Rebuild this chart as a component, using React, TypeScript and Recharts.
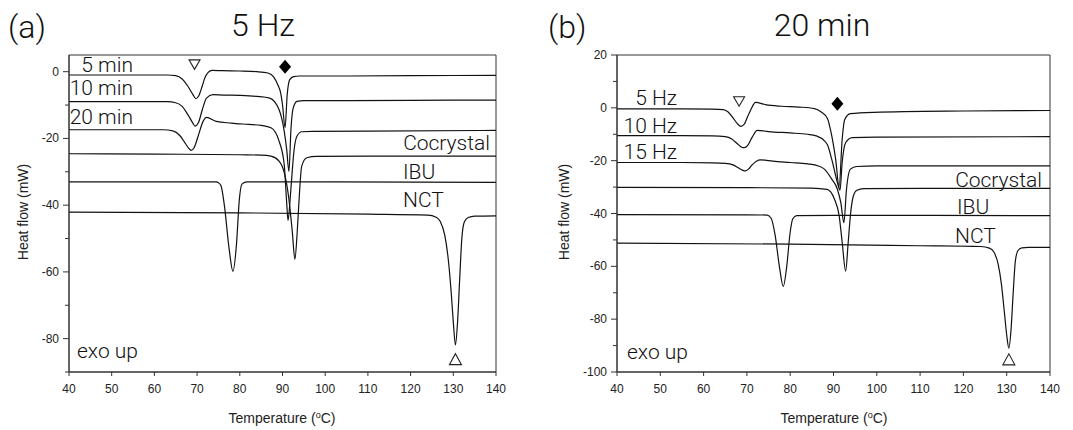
import React from 'react';
import { LineChart, Line, XAxis, YAxis, ReferenceArea, ReferenceDot } from 'recharts';

// ---------- shared ticks ----------
const xTicks = [40, 50, 60, 70, 80, 90, 100, 110, 120, 130, 140];
const aYTicks = [-90, -80, -70, -60, -50, -40, -30, -20, -10, 0];
const bYTicks = [-100, -90, -80, -70, -60, -50, -40, -30, -20, -10, 0, 10, 20];

// ---------- panel (a): 5 Hz ----------
const a5minT = [40, 55, 63, 65, 66.5, 67.8, 69, 69.7, 70.4, 71.2, 71.8, 72.6, 73.5, 76, 80, 84, 86.6, 88, 88.9, 89.5, 90.0, 90.6, 91.1, 91.7, 92.6, 94, 100, 120, 140];
const a5minV = [-1.0, -1.0, -1.0, -1.2, -2.2, -4.3, -6.8, -8.1, -7.2, -4.3, -1.9, -0.2, 0.4, 0.3, 0.2, 0.0, -0.4, -1.7, -3.9, -6.0, -9.9, -16.8, -6.9, -2.4, -1.5, -1.3, -1.3, -1.2, -1.1];

const a10minT = [40, 55, 63, 65, 66.5, 67.8, 69, 69.5, 70.3, 71.2, 72.2, 73.7, 76, 80, 84, 87, 89.2, 90.4, 91.0, 91.5, 92.0, 92.5, 93.4, 95, 100, 120, 140];
const a10minV = [-9.0, -9.0, -9.0, -9.3, -10.4, -12.8, -15.4, -16.3, -15.3, -11.5, -7.9, -6.9, -7.0, -7.1, -7.4, -7.9, -11.4, -17.8, -23.5, -29.9, -16.8, -10.9, -8.9, -8.7, -8.7, -8.6, -8.5];

const a20minT = [40, 55, 62, 64.5, 66, 67.3, 68, 68.6, 69.3, 70.2, 71.4, 72.2, 74.5, 78, 82, 85, 87.3, 89.2, 90.4, 91.0, 91.3, 91.8, 92.3, 92.6, 93.4, 94.5, 97, 110, 140];
const a20minV = [-17.4, -17.4, -17.4, -17.8, -19.2, -21.6, -22.9, -23.6, -22.8, -19.5, -14.9, -13.7, -14.9, -15.4, -15.8, -16.1, -16.8, -20.8, -27.8, -39.7, -44.6, -38.0, -29.5, -24.8, -19.3, -18.0, -17.9, -17.8, -17.6];

const aCocrystalT = [40, 60, 80, 85, 87.3, 89.2, 90.4, 91.5, 92.3, 92.9, 93.4, 93.8, 94.5, 95.7, 98, 110, 140];
const aCocrystalV = [-24.6, -24.7, -24.9, -25.0, -25.3, -26.8, -30.2, -38.2, -48.0, -56.2, -49.0, -40.2, -28.3, -25.8, -25.4, -25.3, -25.3];

const aIbuT = [40, 60, 74.5, 75.0, 75.6, 76.4, 77.5, 78.4, 79.2, 79.9, 80.5, 81.7, 90, 140];
const aIbuV = [-33.0, -33.0, -33.0, -33.3, -34.2, -40.2, -53.1, -59.8, -52.1, -38.2, -33.7, -33.0, -33.0, -33.2];

const aNctT = [40, 80, 110, 124, 126, 127, 128, 128.8, 129.5, 130, 130.5, 131, 131.5, 132, 132.6, 133.5, 135, 140];
const aNctV = [-42.1, -42.3, -42.7, -43.0, -43.6, -45.0, -49.0, -56.0, -66.0, -75.0, -81.9, -75.0, -62.0, -50.0, -45.0, -43.7, -43.3, -43.2];

// ---------- panel (b): 20 min ----------
const b5HzT = [40, 55, 62, 64.5, 65.6, 66.8, 67.8, 68.6, 69.4, 70.2, 70.9, 72.0, 74.3, 78, 82, 85.6, 87.1, 88.6, 89.4, 90.5, 91.3, 92.0, 92.6, 93.9, 99.3, 120, 140];
const b5HzV = [-0.4, -0.4, -0.5, -0.7, -1.5, -3.8, -6.0, -7.0, -6.2, -3.2, -0.7, 2.1, 1.2, 0.6, 0.3, -0.3, -1.5, -4.0, -9.0, -19.5, -30.0, -12.0, -4.4, -2.2, -1.7, -1.2, -1.0];

const b10HzT = [40, 55, 62, 65, 66.5, 67.8, 68.7, 69.4, 70.2, 71.2, 72.4, 75, 80, 84, 86, 87.9, 88.6, 89.6, 90.9, 91.5, 92.0, 92.8, 94.3, 100, 140];
const b10HzV = [-10.5, -10.5, -10.6, -10.9, -11.8, -13.6, -14.8, -15.1, -14.2, -11.2, -8.5, -9.0, -9.5, -10.0, -10.6, -12.5, -14.0, -19.5, -28.3, -31.2, -20.7, -13.2, -11.3, -11.1, -10.9];

const b15HzT = [40, 55, 62, 65, 66.8, 68.2, 69.0, 69.6, 70.3, 71.2, 72.2, 73.1, 76, 80, 84, 86.5, 87.9, 89.6, 90.9, 91.7, 92.4, 93.0, 93.9, 95.4, 100, 140];
const b15HzV = [-20.7, -20.7, -20.8, -21.0, -21.6, -22.9, -23.6, -23.9, -23.3, -21.6, -20.2, -19.7, -20.2, -20.7, -21.2, -22.0, -23.2, -27.0, -30.8, -36.0, -43.5, -30.8, -23.2, -22.2, -22.0, -22.0];

const bCocrystalT = [40, 70, 85, 88.5, 90.2, 91.3, 92.0, 92.8, 93.4, 93.9, 94.6, 95.4, 97, 120, 140];
const bCocrystalV = [-30.1, -30.2, -30.4, -30.9, -34.5, -40.8, -50.8, -61.8, -50.8, -40.8, -33.3, -31.2, -30.6, -30.5, -30.5];

const bIbuT = [40, 70, 74.7, 75.6, 76.5, 77.5, 78.4, 79.2, 80.0, 80.6, 81.5, 90, 140];
const bIbuV = [-40.4, -40.5, -40.6, -41.8, -48.0, -60.0, -67.6, -60.0, -47.0, -42.0, -40.8, -40.7, -40.8];

const bNctT = [40, 80, 110, 124, 126, 127, 128, 128.8, 129.5, 130, 130.5, 131, 131.5, 132, 132.6, 133.5, 135, 140];
const bNctV = [-51.2, -51.6, -52.2, -52.5, -53.1, -54.5, -59.0, -67.0, -78.0, -86.0, -91.0, -84.0, -70.0, -58.0, -54.0, -53.0, -52.8, -52.8];

// ---------- markers ----------
const aMarkers = [
  { t: 69.4, v: 2.2, kind: 'down' },
  { t: 90.6, v: 1.5, kind: 'diamond' },
  { t: 130.5, v: -86.3, kind: 'up' },
];
const bMarkers = [
  { t: 68.2, v: 2.5, kind: 'down' },
  { t: 90.9, v: 1.5, kind: 'diamond' },
  { t: 130.5, v: -95.4, kind: 'up' },
];

const pts = (t: number[], v: number[]) => t.map((x, i) => ({ t: x, v: v[i] }));

const seriesA = [
  pts(a5minT, a5minV), pts(a10minT, a10minV), pts(a20minT, a20minV),
  pts(aCocrystalT, aCocrystalV), pts(aIbuT, aIbuV), pts(aNctT, aNctV),
];
const seriesB = [
  pts(b5HzT, b5HzV), pts(b10HzT, b10HzV), pts(b15HzT, b15HzV),
  pts(bCocrystalT, bCocrystalV), pts(bIbuT, bIbuV), pts(bNctT, bNctV),
];

const TICK_FONT = '"Liberation Sans", Arial, Helvetica, sans-serif';
const LABEL_FONT = 'Roboto, "Liberation Sans", Arial, sans-serif';
const AXIS = '#333';

const XTick = (p: any) => {
  const { x, y, payload } = p;
  return (
    <g>
      <line x1={x} x2={x} y1={y} y2={y + 4} stroke={AXIS} strokeWidth={1} />
      <text x={x} y={y + 21} textAnchor="middle" fontSize={12} fill="#222" fontFamily={TICK_FONT}>
        {payload.value}
      </text>
    </g>
  );
};

const YTick = (p: any) => {
  const { x, y, payload } = p;
  const major = payload.value % 20 === 0;
  return (
    <g>
      <line x1={x} x2={x - (major ? 6 : 4)} y1={y} y2={y} stroke={AXIS} strokeWidth={1} />
      {major && (
        <text x={x - 10} y={y + 4} textAnchor="end" fontSize={12} fill="#222" fontFamily={TICK_FONT}>
          {payload.value}
        </text>
      )}
    </g>
  );
};

const markerShape = (kind: string) => (p: any) => {
  const { cx, cy } = p;
  if (kind === 'diamond') {
    return <path d={`M${cx},${cy - 7} L${cx + 6},${cy} L${cx},${cy + 7} L${cx - 6},${cy} Z`} fill="#000" />;
  }
  if (kind === 'down') {
    return <path d={`M${cx - 5.5},${cy - 4.5} L${cx + 5.5},${cy - 4.5} L${cx},${cy + 5} Z`} fill="#fff" stroke="#222" strokeWidth={1.1} />;
  }
  return <path d={`M${cx - 6},${cy + 5} L${cx + 6},${cy + 5} L${cx},${cy - 6} Z`} fill="#fff" stroke="#222" strokeWidth={1.1} />;
};

function Panel(props: {
  series: { t: number; v: number }[][];
  yDomain: [number, number];
  yTicks: number[];
  width: number;
  yAxisWidth: number;
  rightMargin: number;
  markers: { t: number; v: number; kind: string }[];
}) {
  const { series, yDomain, yTicks, width, yAxisWidth, rightMargin, markers } = props;
  return (
    <LineChart width={width} height={430} margin={{ top: 55, right: rightMargin, bottom: 28, left: 0 }}>
      <XAxis
        dataKey="t"
        type="number"
        domain={[40, 140]}
        ticks={xTicks}
        allowDataOverflow
        height={30}
        tickSize={0}
        tickMargin={0}
        tickLine={false}
        tick={<XTick />}
        axisLine={{ stroke: AXIS }}
        interval={0}
      />
      <YAxis
        dataKey="v"
        type="number"
        domain={yDomain}
        ticks={yTicks}
        allowDataOverflow
        width={yAxisWidth}
        tickSize={0}
        tickMargin={0}
        tickLine={false}
        tick={<YTick />}
        axisLine={{ stroke: AXIS }}
        interval={0}
      />
      <ReferenceArea x1={40} x2={140} y1={yDomain[0]} y2={yDomain[1]} fill="none" fillOpacity={0} stroke={AXIS} strokeWidth={1} />
      {series.map((d, i) => (
        <Line
          key={i}
          data={d}
          dataKey="v"
          type="monotone"
          stroke="#111"
          strokeWidth={1.2}
          dot={false}
          activeDot={false}
          isAnimationActive={false}
        />
      ))}
      {markers.map((m, i) => (
        <ReferenceDot key={'m' + i} x={m.t} y={m.v} r={6} shape={markerShape(m.kind)} />
      ))}
    </LineChart>
  );
}

const txt = (s: React.ReactNode, x: number, cy: number, size: number, align: 'left' | 'right' | 'center') => {
  const tx = align === 'left' ? '0' : align === 'right' ? '-100%' : '-50%';
  return (
    <div
      style={{
        position: 'absolute',
        left: x,
        top: cy,
        transform: `translate(${tx}, -50%)`,
        fontSize: size,
        lineHeight: 1,
        whiteSpace: 'nowrap',
        fontFamily: LABEL_FONT,
        fontWeight: 300,
        color: '#111',
      }}
    >
      {s}
    </div>
  );
};

const yLabel = (cx: number, cy: number) => (
  <div
    style={{
      position: 'absolute',
      left: cx - 100,
      top: cy - 10,
      width: 200,
      height: 20,
      lineHeight: '20px',
      textAlign: 'center',
      transform: 'rotate(-90deg)',
      fontSize: 14,
      fontFamily: TICK_FONT,
      color: '#222',
    }}
  >
    Heat flow (mW)
  </div>
);

const xLabel = (cx: number, cy: number) => (
  <div
    style={{
      position: 'absolute',
      left: cx,
      top: cy,
      transform: 'translate(-50%, -50%)',
      fontSize: 14,
      lineHeight: 1,
      whiteSpace: 'nowrap',
      fontFamily: TICK_FONT,
      color: '#222',
    }}
  >
    Temperature (<sup style={{ fontSize: 9 }}>o</sup>C)
  </div>
);

export default function App() {
  return (
    <div style={{ position: 'absolute', left: 0, top: 0, width: 1073, height: 430, background: '#fff', overflow: 'hidden' }}>
      <div style={{ position: 'absolute', left: 0, top: 0 }}>
        <Panel series={seriesA} yDomain={[-90, 5]} yTicks={aYTicks} width={540} yAxisWidth={69} rightMargin={44} markers={aMarkers} />
      </div>
      <div style={{ position: 'absolute', left: 540, top: 0 }}>
        <Panel series={seriesB} yDomain={[-100, 20]} yTicks={bYTicks} width={533} yAxisWidth={77} rightMargin={23} markers={bMarkers} />
      </div>

      {txt('(a)', 8, 27, 32, 'left')}
      {txt('5 Hz', 263, 25, 32, 'center')}
      {txt('(b)', 548, 27, 32, 'left')}
      {txt('20 min', 822, 25, 32, 'center')}

      {txt('5 min', 133, 65, 21, 'right')}
      {txt('10 min', 133, 88, 21, 'right')}
      {txt('20 min', 133, 117, 21, 'right')}
      {txt('Cocrystal', 490, 143, 21, 'right')}
      {txt('IBU', 403, 172, 21, 'left')}
      {txt('NCT', 403, 200, 21, 'left')}
      {txt('exo up', 77, 351, 21, 'left')}

      {txt('5 Hz', 677, 98, 21, 'right')}
      {txt('10 Hz', 677, 126, 21, 'right')}
      {txt('15 Hz', 677, 152, 21, 'right')}
      {txt('Cocrystal', 1042, 180, 21, 'right')}
      {txt('IBU', 957, 207, 21, 'left')}
      {txt('NCT', 955, 236, 21, 'left')}
      {txt('exo up', 627, 352, 21, 'left')}

      {yLabel(23, 212)}
      {yLabel(564, 212)}
      {xLabel(282, 418)}
      {xLabel(834, 418)}
    </div>
  );
}
